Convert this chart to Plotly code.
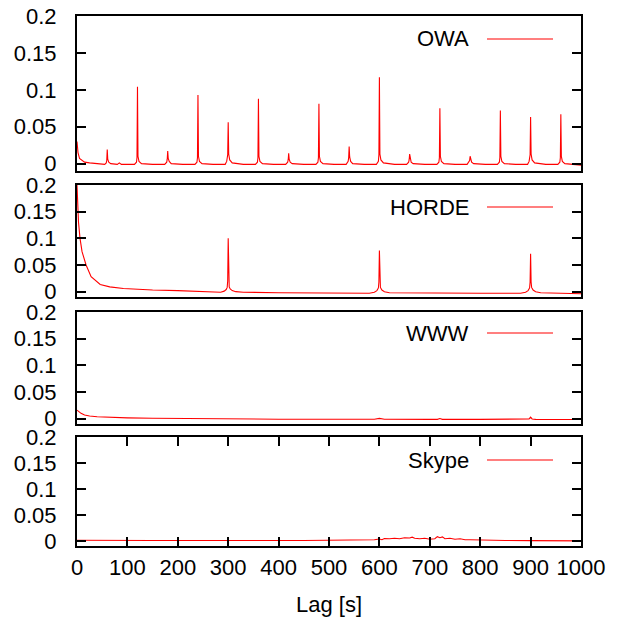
import plotly.graph_objects as go

# ---------------- data ----------------
owa_lag = [0, 2, 5, 10, 15, 25, 40,
           55, 58, 59, 60, 61, 63, 67, 80, 84, 88,
           114, 118, 119, 120, 121, 123, 128, 150,
           174, 178, 179, 180, 181, 183, 187, 210,
           234, 238, 239, 240, 241, 243, 248, 270,
           294, 297, 299, 300, 301, 303, 308, 330,
           354, 358, 359, 360, 361, 363, 368, 390,
           414, 418, 419, 420, 421, 423, 427, 450,
           474, 478, 479, 480, 481, 483, 488, 510,
           534, 538, 539, 540, 541, 543, 547, 570,
           594, 598, 599, 600, 601, 603, 608, 630,
           654, 658, 659, 660, 661, 663, 667, 690,
           714, 718, 719, 720, 721, 723, 728, 750,
           774, 778, 779, 780, 781, 783, 787, 810,
           834, 838, 839, 840, 841, 843, 848, 870,
           894, 897, 899, 900, 901, 903, 908, 930,
           954, 958, 959, 960, 961, 963, 968, 985, 1000]
owa_val = [0.030, 0.015, 0.007, 0.004, 0.002, 0.001, 0.000,
           -0.001, 0.001, 0.004, 0.019, 0.006, 0.002, 0.000, -0.001, 0.001, -0.001,
           -0.001, 0.002, 0.008, 0.104, 0.010, 0.003, 0.000, -0.001,
           -0.001, 0.002, 0.006, 0.017, 0.007, 0.003, 0.000, -0.001,
           -0.001, 0.002, 0.008, 0.093, 0.010, 0.003, 0.000, -0.001,
           -0.001, 0.003, 0.012, 0.056, 0.013, 0.005, 0.001, -0.001,
           -0.001, 0.002, 0.008, 0.088, 0.010, 0.003, 0.000, -0.001,
           -0.001, 0.002, 0.005, 0.014, 0.006, 0.002, 0.000, -0.001,
           -0.001, 0.002, 0.008, 0.081, 0.010, 0.003, 0.000, -0.001,
           -0.001, 0.003, 0.008, 0.023, 0.009, 0.003, 0.000, -0.001,
           -0.001, 0.003, 0.012, 0.117, 0.013, 0.005, 0.001, -0.001,
           -0.001, 0.002, 0.005, 0.013, 0.006, 0.002, 0.000, -0.001,
           -0.001, 0.002, 0.008, 0.075, 0.010, 0.003, 0.000, -0.001,
           -0.001, 0.002, 0.004, 0.010, 0.005, 0.002, 0.000, -0.001,
           -0.001, 0.002, 0.008, 0.072, 0.010, 0.003, 0.000, -0.001,
           -0.001, 0.003, 0.012, 0.063, 0.013, 0.005, 0.001, -0.001,
           -0.001, 0.002, 0.008, 0.067, 0.010, 0.003, 0.000, -0.001, -0.002]

horde_lag = [0, 1, 3, 6, 10, 18, 28, 46, 65, 92, 150, 200, 250,
             285, 292, 296, 298, 299, 300, 301, 302, 304, 308, 315, 330,
             400, 500, 580, 590, 595, 598, 599, 600, 601, 602, 605, 610, 620,
             700, 800, 880, 890, 895, 898, 899, 900, 901, 902, 905, 910, 920, 1000]
horde_val = [0.200, 0.170, 0.130, 0.100, 0.075, 0.050, 0.028, 0.0136, 0.009, 0.006, 0.003, 0.002, 0.001,
             -0.001, 0.001, 0.004, 0.008, 0.020, 0.100, 0.020, 0.009, 0.005, 0.002, 0.000, -0.001,
             -0.002, -0.002, -0.003, -0.001, 0.002, 0.007, 0.018, 0.077, 0.018, 0.008, 0.003, 0.000, -0.002,
             -0.003, -0.003, -0.003, -0.001, 0.002, 0.007, 0.018, 0.071, 0.018, 0.008, 0.003, 0.000, -0.002, -0.004]

www_lag = [0, 3, 8, 15, 25, 40, 60, 100, 150, 200, 300, 400, 500, 590, 600, 610,
           700, 715, 720, 725, 800, 890, 897, 900, 903, 910, 1000]
www_val = [0.016, 0.013, 0.010, 0.007, 0.005, 0.0035, 0.0025, 0.0015, 0.0008, 0.0002, -0.0005, -0.001,
           -0.0012, -0.0012, 0.0005, -0.0012, -0.0013, -0.0013, 0.0002, -0.0013, -0.0013, -0.0013,
           -0.0005, 0.003, -0.0005, -0.0014, -0.0016]

skype_lag = [0, 50, 100, 150, 200, 250, 300, 350, 400, 450, 500, 550, 580, 590, 600, 605, 610,
             620, 630, 640, 650, 660, 665, 670, 680, 690, 700, 710, 715, 720, 725, 730, 740,
             750, 760, 770, 780, 800, 850, 900, 950, 1000]
skype_val = [0.001, 0.0005, 0.0005, 0.0005, 0.0007, 0.0003, 0.0003, 0.0003, 0.0005, 0.0007, 0.0008,
             0.001, 0.0015, 0.002, 0.0035, 0.002, 0.0045, 0.004, 0.005, 0.004, 0.006, 0.0055, 0.007,
             0.005, 0.004, 0.005, 0.003, 0.004, 0.008, 0.006, 0.0075, 0.004, 0.005, 0.003, 0.004,
             0.002, 0.002, 0.0012, 0.0005, 0.0003, 0.0, -0.0002]

series_names = ["OWA", "HORDE", "WWW", "Skype"]
y_tickvals = [0, 0.05, 0.1, 0.15, 0.2]
y_ticktext = ["0", "0.05", "0.1", "0.15", "0.2"]
x_tickvals = [0, 100, 200, 300, 400, 500, 600, 700, 800, 900, 1000]
x_ticktext = ["0", "100", "200", "300", "400", "500", "600", "700", "800", "900", "1000"]
x_title = "Lag [s]"

# ---------------- layout geometry (page pixels) ----------------
OFF = 8                      # default page body margin
PAGE = 618
W = H = PAGE - OFF
L, R, T, B = 77, 581, 16, 546
PW, PH = R - L, B - T

def fy(py):
    return (B - py) / PH

def fx(px):
    return (px - L) / PW

panels = [(16, 171), (185, 297), (312, 424), (437, 546)]
legend_y = [39, 207, 333, 460]

FONT = "Liberation Sans, Arial, Helvetica, sans-serif"
FS = 22
RED = "#ff0000"

fig = go.Figure()
data = [(owa_lag, owa_val), (horde_lag, horde_val), (www_lag, www_val), (skype_lag, skype_val)]
for i, ((xs, ys), name) in enumerate(zip(data, series_names)):
    sfx = "" if i == 0 else str(i + 1)
    fig.add_trace(go.Scatter(x=xs, y=ys, mode="lines", name=name,
                             line=dict(color=RED, width=1.1),
                             xaxis="x" + sfx, yaxis="y" + sfx, showlegend=False))

layout = dict(width=W, height=H,
              margin=dict(l=L - OFF, r=PAGE - R, t=T - OFF, b=PAGE - B, autoexpand=False),
              paper_bgcolor="white", plot_bgcolor="white",
              font=dict(family=FONT, size=FS, color="black"))

for i, (top, bot) in enumerate(panels):
    sfx = "" if i == 0 else str(i + 1)
    last = (i == 3)
    xa = dict(domain=[0, 1], range=[0, 1000], anchor="y" + sfx,
              showline=True, linecolor="black", linewidth=2, mirror=True,
              showgrid=False, zeroline=False, automargin=False,
              tickvals=x_tickvals, ticktext=x_ticktext)
    if last:
        xa.update(ticks="inside", ticklen=9, tickwidth=1.5, tickcolor="black",
                  mirror="ticks", showticklabels=True, ticklabeloverflow="allow",
                  tickfont=dict(size=FS), ticklabelstandoff=1)
    else:
        xa.update(ticks="", showticklabels=False)
    ya = dict(domain=[fy(bot), fy(top)], range=[-0.01, 0.2], anchor="x" + sfx,
              showline=True, linecolor="black", linewidth=2, mirror="ticks",
              ticks="inside", ticklen=9, tickwidth=1.5, tickcolor="black",
              showgrid=False, zeroline=False, automargin=False,
              ticklabeloverflow="allow",
              tickvals=y_tickvals, ticktext=y_ticktext,
              tickfont=dict(size=FS), ticklabelstandoff=14)
    layout["xaxis" + sfx] = xa
    layout["yaxis" + sfx] = ya

fig.update_layout(**layout)

fig.add_annotation(xref="paper", yref="paper", x=fx(329), y=fy(604),
                   text=x_title, showarrow=False, xanchor="center", yanchor="middle",
                   font=dict(size=FS, color="black"))

for i, name in enumerate(series_names):
    ly = fy(legend_y[i])
    fig.add_annotation(xref="paper", yref="paper", x=fx(471), y=ly,
                       text=name, showarrow=False, xanchor="right", yanchor="middle",
                       font=dict(size=FS, color="black"))
    fig.add_shape(type="line", xref="paper", yref="paper",
                  x0=fx(487), x1=fx(553), y0=ly, y1=ly,
                  line=dict(color=RED, width=1.1))

fig.write_html("out.html")
